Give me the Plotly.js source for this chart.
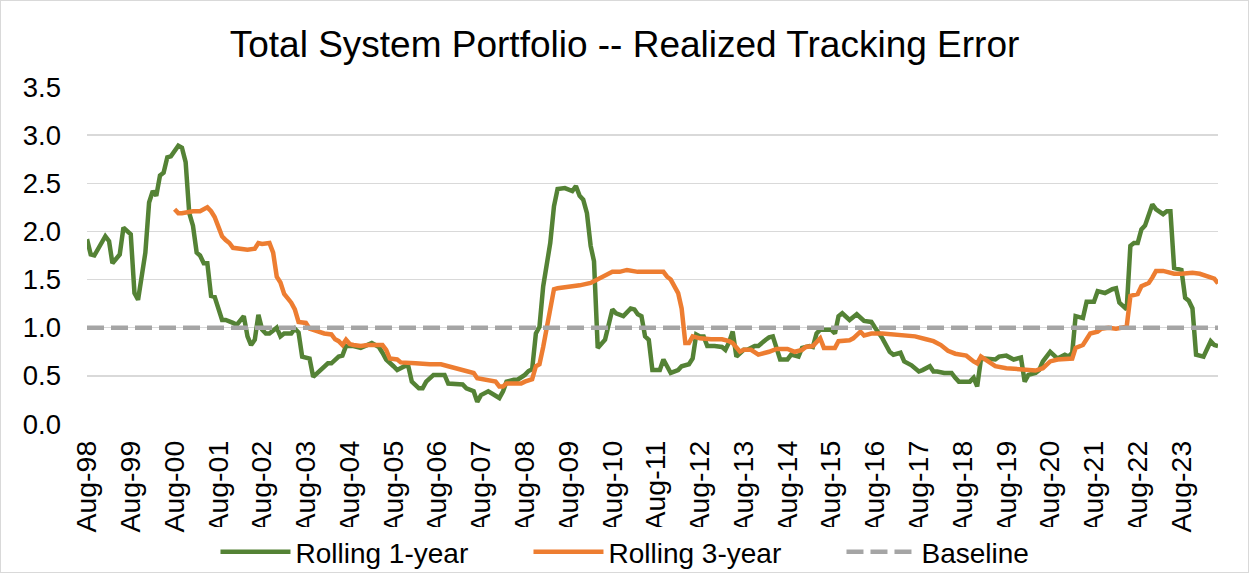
<!DOCTYPE html>
<html>
<head>
<meta charset="utf-8">
<script src="https://cdn.plot.ly/plotly-3.0.1.min.js"></script>
<style>
  body { margin: 0; background: #fff; }
  #chart { width: 1247px; height: 571px; border: 1px solid #d9d9d9; }
</style>
</head>
<body>
<div id="chart"></div>
<script>
// Rolling 1-year tracking error
const oneYearDates = ['1998-08','1998-09','1998-10','1998-11','1999-01','1999-02','1999-03','1999-05','1999-06','1999-08',
  '1999-09','1999-10','1999-12','2000-01','2000-02','2000-03','2000-04','2000-05','2000-06','2000-07',
  '2000-08','2000-09','2000-10','2000-11','2000-12','2001-01','2001-02','2001-03','2001-04','2001-05',
  '2001-06','2001-07','2001-09','2001-10','2001-12','2002-01','2002-03','2002-04','2002-05','2002-06',
  '2002-07','2002-08','2002-09','2002-10','2002-12','2003-01','2003-02','2003-04','2003-05','2003-06',
  '2003-07','2003-09','2003-10','2003-12','2004-02','2004-03','2004-05','2004-06','2004-07','2004-09',
  '2004-11','2005-02','2005-04','2005-05','2005-06','2005-08','2005-09','2005-11','2005-12','2006-01',
  '2006-03','2006-04','2006-05','2006-07','2006-10','2006-11','2007-01','2007-03','2007-04','2007-06',
  '2007-07','2007-08','2007-10','2007-12','2008-01','2008-02','2008-03','2008-05','2008-06','2008-08',
  '2008-09','2008-10','2008-11','2008-12','2009-01','2009-03','2009-04','2009-05','2009-07','2009-09',
  '2009-10','2009-11','2009-12','2010-01','2010-02','2010-03','2010-04','2010-06','2010-08','2010-09',
  '2010-11','2011-01','2011-02','2011-03','2011-04','2011-05','2011-06','2011-07','2011-09','2011-10',
  '2011-12','2012-02','2012-03','2012-05','2012-06','2012-07','2012-08','2012-09','2012-10','2012-12',
  '2013-02','2013-03','2013-04','2013-05','2013-06','2013-08','2013-09','2013-11','2013-12','2014-02',
  '2014-03','2014-04','2014-05','2014-06','2014-08','2014-09','2014-11','2014-12','2015-02','2015-03',
  '2015-04','2015-05','2015-08','2015-09','2015-10','2015-11','2016-01','2016-03','2016-05','2016-07',
  '2016-08','2016-10','2016-12','2017-01','2017-03','2017-04','2017-06','2017-07','2017-08','2017-09',
  '2017-11','2017-12','2018-01','2018-03','2018-05','2018-06','2018-07','2018-10','2018-11','2018-12',
  '2019-01','2019-02','2019-05','2019-06','2019-08','2019-10','2019-11','2019-12','2020-01','2020-02',
  '2020-04','2020-05','2020-06','2020-07','2020-08','2020-10','2020-12','2021-01','2021-02','2021-03',
  '2021-05','2021-06','2021-08','2021-09','2021-11','2022-01','2022-02','2022-03','2022-05','2022-06',
  '2022-07','2022-08','2022-09','2022-10','2022-11','2022-12','2023-01','2023-03','2023-04','2023-05',
  '2023-06','2023-08','2023-09','2023-10','2023-11','2023-12','2024-02','2024-04','2024-05','2024-06'];
const oneYearValues = [1.92,1.76,1.75,1.82,1.95,1.90,1.67,1.76,2.04,1.97,
  1.36,1.29,1.78,2.30,2.42,2.37,2.58,2.61,2.77,2.78,
  2.83,2.89,2.87,2.72,2.19,2.06,1.78,1.75,1.67,1.67,
  1.33,1.32,1.08,1.08,1.05,1.03,1.12,0.91,0.82,0.875,
  1.135,0.98,0.94,0.94,1.00,0.91,0.94,0.94,0.99,0.95,
  0.70,0.68,0.49,0.56,0.63,0.63,0.70,0.71,0.81,0.81,
  0.79,0.84,0.80,0.74,0.67,0.60,0.56,0.60,0.61,0.44,
  0.37,0.37,0.44,0.51,0.51,0.42,0.41,0.41,0.37,0.34,
  0.23,0.30,0.34,0.30,0.27,0.34,0.44,0.46,0.46,0.51,
  0.55,0.57,0.94,1.01,1.43,1.88,2.26,2.44,2.45,2.42,
  2.47,2.37,2.33,2.19,1.85,1.69,0.79,0.875,1.19,1.15,
  1.12,1.20,1.19,1.14,1.12,0.91,0.875,0.56,0.56,0.67,
  0.53,0.56,0.60,0.62,0.68,0.93,0.91,0.91,0.81,0.81,
  0.80,0.77,0.85,0.96,0.70,0.77,0.77,0.81,0.81,0.875,
  0.90,0.91,0.78,0.67,0.67,0.72,0.70,0.79,0.81,0.80,
  0.94,0.98,0.98,0.94,1.12,1.15,1.08,1.14,1.07,1.06,
  1.00,0.89,0.75,0.72,0.74,0.65,0.61,0.57,0.545,0.56,
  0.60,0.545,0.545,0.53,0.53,0.48,0.44,0.44,0.48,0.39,
  0.67,0.68,0.67,0.70,0.71,0.67,0.68,0.69,0.44,0.51,
  0.53,0.56,0.65,0.70,0.75,0.68,0.72,0.70,0.74,1.12,
  1.10,1.27,1.27,1.38,1.36,1.40,1.41,1.26,1.19,1.85,
  1.88,1.88,2.02,2.06,2.16,2.28,2.23,2.18,2.21,2.21,
  1.62,1.60,1.31,1.28,1.20,0.72,0.70,0.86,0.82,0.81];

// Rolling 3-year tracking error
const threeYearDates = ['2000-08','2000-09','2000-10','2000-11','2001-01','2001-03','2001-04','2001-05','2001-06','2001-07',
  '2001-08','2001-09','2001-10','2001-11','2001-12','2002-02','2002-04','2002-06','2002-07','2002-08',
  '2002-10','2002-11','2002-12','2003-01','2003-02','2003-04','2003-05','2003-06','2003-08','2003-09',
  '2003-11','2004-01','2004-03','2004-04','2004-05','2004-06','2004-07','2004-08','2004-09','2004-11',
  '2005-01','2005-03','2005-05','2005-06','2005-07','2005-09','2005-10','2006-02','2006-04','2006-06',
  '2006-08','2006-09','2006-11','2007-01','2007-04','2007-06','2007-07','2007-09','2007-12','2008-01',
  '2008-02','2008-03','2008-05','2008-07','2008-08','2008-10','2008-11','2008-12','2009-01','2009-02',
  '2009-03','2009-04','2009-05','2009-08','2009-11','2010-02','2010-04','2010-06','2010-08','2010-10',
  '2010-12','2011-03','2011-06','2011-08','2011-10','2011-11','2011-12','2012-02','2012-03','2012-04',
  '2012-05','2012-06','2012-08','2012-11','2013-02','2013-04','2013-05','2013-07','2013-08','2013-10',
  '2013-12','2014-03','2014-05','2014-08','2014-10','2014-12','2015-01','2015-03','2015-05','2015-06',
  '2015-09','2015-10','2016-01','2016-02','2016-04','2016-05','2016-07','2016-10','2017-01','2017-03',
  '2017-07','2017-10','2017-12','2018-02','2018-04','2018-06','2018-09','2018-11','2018-12','2019-01',
  '2019-03','2019-05','2019-08','2019-11','2020-01','2020-04','2020-06','2020-08','2020-10','2020-12',
  '2021-02','2021-03','2021-05','2021-07','2021-09','2021-10','2021-12','2022-02','2022-03','2022-05',
  '2022-06','2022-08','2022-09','2022-11','2022-12','2023-01','2023-03','2023-06','2023-08','2023-11',
  '2024-01','2024-04','2024-05','2024-06'];
const threeYearValues = [2.23,2.19,2.19,2.20,2.21,2.21,2.23,2.25,2.21,2.15,
  2.05,1.95,1.91,1.88,1.83,1.82,1.81,1.82,1.88,1.87,
  1.88,1.78,1.53,1.47,1.35,1.26,1.19,1.06,1.05,0.99,
  0.96,0.94,0.93,0.88,0.86,0.82,0.875,0.83,0.82,0.81,
  0.82,0.82,0.82,0.77,0.68,0.67,0.64,0.63,0.62,0.62,
  0.62,0.62,0.60,0.58,0.56,0.53,0.475,0.46,0.44,0.39,
  0.39,0.42,0.42,0.42,0.44,0.465,0.60,0.62,0.80,1.01,
  1.22,1.40,1.41,1.42,1.44,1.465,1.50,1.54,1.58,1.58,
  1.60,1.58,1.58,1.58,1.58,1.53,1.50,1.36,1.20,0.84,
  0.84,0.91,0.89,0.88,0.88,0.86,0.84,0.75,0.77,0.77,
  0.72,0.75,0.78,0.78,0.75,0.77,0.80,0.81,0.89,0.79,
  0.79,0.86,0.87,0.89,0.96,0.92,0.94,0.94,0.93,0.92,
  0.91,0.88,0.86,0.82,0.76,0.73,0.71,0.65,0.63,0.70,
  0.65,0.60,0.58,0.57,0.555,0.555,0.58,0.65,0.67,0.67,
  0.68,0.79,0.82,0.94,0.96,0.99,1.00,0.99,1.00,1.01,
  1.33,1.35,1.43,1.465,1.52,1.59,1.59,1.56,1.56,1.57,
  1.56,1.53,1.51,1.46];

// Baseline
const baselineDates = ['1998-08', '2024-06'];
const baselineValues = [1.0, 1.0];

const font = 'Liberation Sans, Arial, sans-serif';

const traces = [
  {
    x: oneYearDates, y: oneYearValues,
    type: 'scatter', mode: 'lines', name: 'Rolling 1-year',
    line: { color: '#548235', width: 4.5 }
  },
  {
    x: threeYearDates, y: threeYearValues,
    type: 'scatter', mode: 'lines', name: 'Rolling 3-year',
    line: { color: '#ED7D31', width: 4.5 }
  },
  {
    x: baselineDates, y: baselineValues,
    type: 'scatter', mode: 'lines', name: 'Baseline',
    line: { color: '#A5A5A5', width: 4.5, dash: '17px,7px' }
  }
];

const layout = {
  width: 1247,
  height: 571,
  margin: { l: 86, r: 30, t: 86, b: 148 },
  paper_bgcolor: '#fff',
  plot_bgcolor: '#fff',
  font: { family: font, color: '#000' },
  title: {
    text: 'Total System Portfolio -- Realized Tracking Error',
    font: { family: font, size: 37, color: '#000' },
    x: 0.5, xanchor: 'center',
    y: 0.925, yanchor: 'middle', yref: 'container'
  },
  xaxis: {
    type: 'date',
    range: ['1998-08-01', '2024-06-01'],
    tick0: '1998-08-01',
    dtick: 'M12',
    tickformat: '%b-%y',
    tickangle: -90,
    tickfont: { family: font, size: 28.5, color: '#000' },
    showgrid: false,
    zeroline: false,
    showline: false,
    ticks: '',
    automargin: false,
    ticklabelstandoff: 10
  },
  yaxis: {
    range: [0, 3.5],
    dtick: 0.5,
    tickformat: '.1f',
    tickfont: { family: font, size: 27.5, color: '#000' },
    gridcolor: '#d9d9d9',
    gridwidth: 1.5,
    zeroline: false,
    showline: false,
    automargin: false,
    ticklabelstandoff: 25
  },
  showlegend: true,
  legend: {
    orientation: 'h',
    xref: 'container', yref: 'container',
    x: 0.172, xanchor: 'left',
    y: 0.035, yanchor: 'middle',
    font: { family: font, size: 28, color: '#000' },
    itemwidth: 70,
    entrywidth: 228,
    traceorder: 'normal'
  }
};

Plotly.newPlot('chart', traces, layout, { displayModeBar: false, staticPlot: true });
</script>
</body>
</html>
